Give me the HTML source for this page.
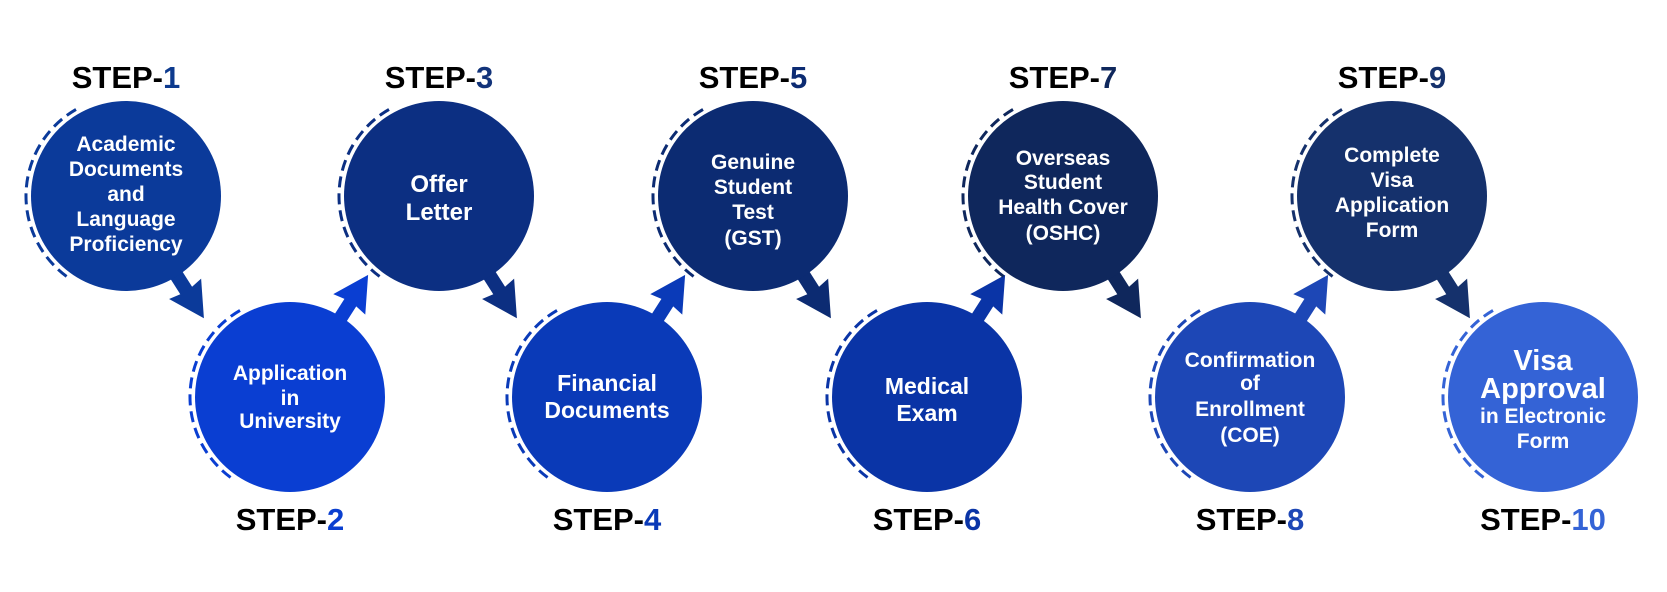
<!DOCTYPE html>
<html><head><meta charset="utf-8"><style>
html,body{margin:0;padding:0;background:#fff;}
svg{display:block;}
.t{font-family:"Liberation Sans",sans-serif;font-weight:bold;fill:#fff;text-anchor:middle;}
.s{font-family:"Liberation Sans",sans-serif;font-weight:bold;fill:#000;text-anchor:middle;font-size:31px;}
</style></head><body>
<svg width="1667" height="592" viewBox="0 0 1667 592" xmlns="http://www.w3.org/2000/svg">
<defs>
<polygon id="arr" points="0,-7 112,-7 110,-19 145,0 110,19 112,7 0,7"/>
<path id="dash" d="M -50 -86.6 A 100 100 0 0 0 -57.4 81.9" fill="none" stroke-width="3" stroke-dasharray="11 6"/>
</defs>

<!-- arrows -->
<use href="#arr" fill="#0b3a9a" transform="translate(126,196) rotate(57.5)"/>
<use href="#arr" fill="#0a3ed2" transform="translate(290,397) rotate(-57.4)"/>
<use href="#arr" fill="#0c2f82" transform="translate(439,196) rotate(57.5)"/>
<use href="#arr" fill="#0a3ab8" transform="translate(607,397) rotate(-57.4)"/>
<use href="#arr" fill="#0c2b72" transform="translate(753,196) rotate(57.5)"/>
<use href="#arr" fill="#0a34a6" transform="translate(927,397) rotate(-57.4)"/>
<use href="#arr" fill="#0f275c" transform="translate(1063,196) rotate(57.5)"/>
<use href="#arr" fill="#1d47b6" transform="translate(1250,397) rotate(-57.4)"/>
<use href="#arr" fill="#15316c" transform="translate(1392,196) rotate(57.5)"/>

<!-- circles -->
<g transform="translate(126,196)"><circle r="95" fill="#0b3a9a"/><use href="#dash" stroke="#0b3a9a"/></g>
<g transform="translate(290,397)"><circle r="95" fill="#0a3ed2"/><use href="#dash" stroke="#0a3ed2"/></g>
<g transform="translate(439,196)"><circle r="95" fill="#0c2f82"/><use href="#dash" stroke="#0c2f82"/></g>
<g transform="translate(607,397)"><circle r="95" fill="#0a3ab8"/><use href="#dash" stroke="#0a3ab8"/></g>
<g transform="translate(753,196)"><circle r="95" fill="#0c2b72"/><use href="#dash" stroke="#0c2b72"/></g>
<g transform="translate(927,397)"><circle r="95" fill="#0a34a6"/><use href="#dash" stroke="#0a34a6"/></g>
<g transform="translate(1063,196)"><circle r="95" fill="#0f275c"/><use href="#dash" stroke="#0f275c"/></g>
<g transform="translate(1250,397)"><circle r="95" fill="#1d47b6"/><use href="#dash" stroke="#1d47b6"/></g>
<g transform="translate(1392,196)"><circle r="95" fill="#15316c"/><use href="#dash" stroke="#15316c"/></g>
<g transform="translate(1543,397)"><circle r="95" fill="#3463d6"/><use href="#dash" stroke="#3463d6"/></g>

<!-- circle text -->
<g class="t" font-size="21">
<text x="126" y="151">Academic</text>
<text x="126" y="176">Documents</text>
<text x="126" y="201">and</text>
<text x="126" y="226">Language</text>
<text x="126" y="251">Proficiency</text>

<text x="290" y="380">Application</text>
<text x="290" y="405">in</text>
<text x="290" y="428">University</text>

<text x="439" y="192" font-size="24">Offer</text>
<text x="439" y="220" font-size="24">Letter</text>

<text x="607" y="391" font-size="23">Financial</text>
<text x="607" y="418" font-size="23">Documents</text>

<text x="753" y="169">Genuine</text>
<text x="753" y="194">Student</text>
<text x="753" y="219">Test</text>
<text x="753" y="245">(GST)</text>

<text x="927" y="394" font-size="23">Medical</text>
<text x="927" y="421" font-size="23">Exam</text>

<text x="1063" y="165">Overseas</text>
<text x="1063" y="189">Student</text>
<text x="1063" y="214">Health Cover</text>
<text x="1063" y="240">(OSHC)</text>

<text x="1250" y="367">Confirmation</text>
<text x="1250" y="390">of</text>
<text x="1250" y="416">Enrollment</text>
<text x="1250" y="442">(COE)</text>

<text x="1392" y="162">Complete</text>
<text x="1392" y="187">Visa</text>
<text x="1392" y="212">Application</text>
<text x="1392" y="237">Form</text>

<text x="1543" y="370" font-size="29">Visa</text>
<text x="1543" y="398" font-size="29">Approval</text>
<text x="1543" y="423">in Electronic</text>
<text x="1543" y="448">Form</text>
</g>

<!-- step labels -->
<text class="s" x="126" y="88">STEP-<tspan fill="#0d3a8e">1</tspan></text>
<text class="s" x="290" y="530">STEP-<tspan fill="#0a3fd0">2</tspan></text>
<text class="s" x="439" y="88">STEP-<tspan fill="#12337a">3</tspan></text>
<text class="s" x="607" y="530">STEP-<tspan fill="#0a3ab8">4</tspan></text>
<text class="s" x="753" y="88">STEP-<tspan fill="#0c2b72">5</tspan></text>
<text class="s" x="927" y="530">STEP-<tspan fill="#0a34a6">6</tspan></text>
<text class="s" x="1063" y="88">STEP-<tspan fill="#0f275c">7</tspan></text>
<text class="s" x="1250" y="530">STEP-<tspan fill="#1d47b6">8</tspan></text>
<text class="s" x="1392" y="88">STEP-<tspan fill="#15316c">9</tspan></text>
<text class="s" x="1543" y="530">STEP-<tspan fill="#3463d6">10</tspan></text>
</svg>
</body></html>
